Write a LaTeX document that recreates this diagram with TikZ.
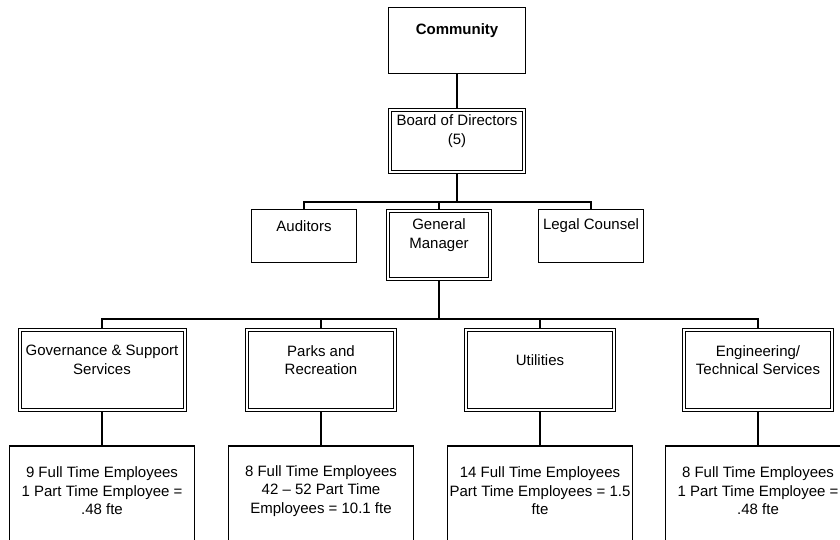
\documentclass[tikz,border=0pt]{standalone}
\usepackage{fontspec}
\setmainfont{Liberation Sans}

\begin{document}
\begin{tikzpicture}[x=1pt, y=-1pt,
    font=\fontsize{15}{18.5}\selectfont,
    box/.style={draw, line width=1.2pt, inner sep=0pt},
    dbox/.style={draw, double, double distance=2pt, line width=1pt, inner sep=0pt, outer sep=2pt},
    txt/.style={align=center, inner sep=0pt},
    conn/.style={line width=1.2pt}]
    \def\depty{370}
    \def\stafy{501}
    \useasboundingbox (0,0) rectangle (840,539);
    \clip (0,0) rectangle (840,539);
    % 顶层
    \node[box, minimum width=137pt, minimum height=66pt] (comm) at (457,40.5) {};
    \node[txt] (comm-t) at ([yshift=10pt]comm.center) {\textbf{Community}};
    \node[dbox, minimum width=134pt, minimum height=62pt] (board) at (457,141) {};
    \node[txt] (board-t) at ([yshift=10pt]board.center) {Board of Directors\\(5)};
    \draw[conn] (comm) -- (board);
    % 第二层
    \coordinate (bus1) at (457,202);
    \node[box, minimum width=105pt, minimum height=53pt] (aud) at (304,236) {};
    \node[txt] (aud-t) at ([yshift=10pt]aud.center) {Auditors};
    \node[dbox, minimum width=102pt, minimum height=68pt] (gm) at (439,245) {};
    \node[txt] (gm-t) at ([yshift=10pt]gm.center) {General\\Manager};
    \node[box, minimum width=105pt, minimum height=53pt] (legal) at (591,236) {};
    \node[txt] (legal-t) at ([yshift=10pt]legal.center) {Legal Counsel};
    \foreach \nm in {aud, gm, legal} {
        \draw[conn] (board.south) -- (board.south |- bus1) -| (\nm.north);
    }
    % 部门及员工
    \coordinate (bus2) at (439,319);
    \foreach \nm/\x/\w/\dept/\staff in {
        gov/102/165/{Governance \& Support\\Services}/{9 Full Time Employees\\1 Part Time Employee =\\.48 fte},
        parks/321/148/{Parks and\\Recreation}/{8 Full Time Employees\\42 -- 52 Part Time\\Employees = 10.1 fte},
        util/540/148/{Utilities}/{14 Full Time Employees\\Part Time Employees = 1.5\\fte},
        eng/758/148/{Engineering/\\Technical Services}/{8 Full Time Employees\\1 Part Time Employee =\\.48 fte}} {
        \node[dbox, minimum width=\w pt, minimum height=80pt] (\nm) at (\x,\depty) {};
        \node[txt] (\nm-t) at ([yshift=10pt]\nm.center) {\dept};
        \node[box, minimum width=185pt, minimum height=110pt] (\nm-s) at (\x,\stafy) {};
        \node[txt] (\nm-st) at ([yshift=10pt]\nm-s.center) {\staff};
        \draw[conn] (gm.south) -- (gm.south |- bus2) -| (\nm.north);
        \draw[conn] (\nm.south) -- (\nm-s.north);
    }
\end{tikzpicture}
\end{document}
